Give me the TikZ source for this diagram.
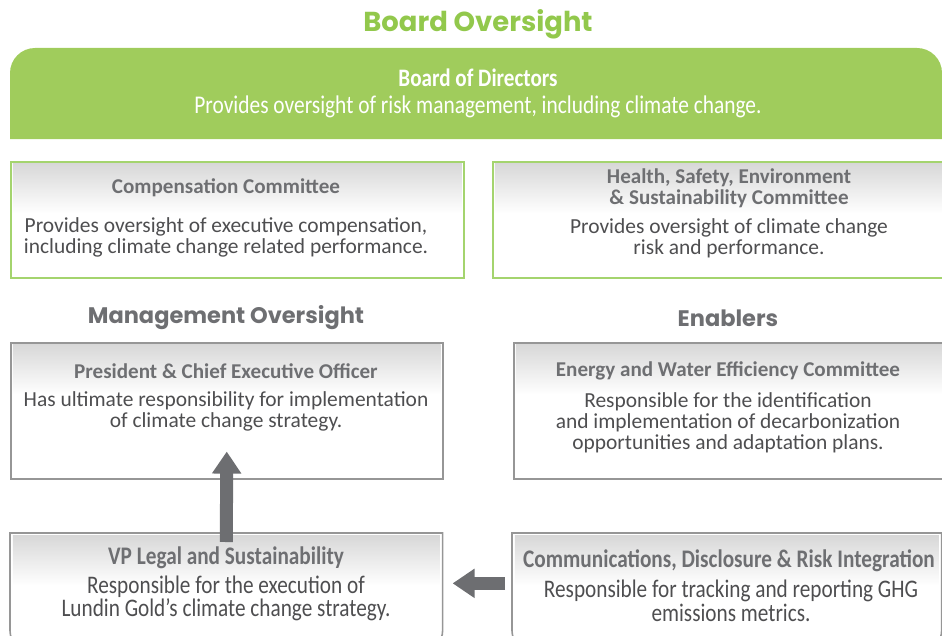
\documentclass[tikz,border=0pt]{standalone}
\usepackage{fontspec}
\setmainfont{Carlito}
\newfontfamily\narrowfont{Carlito}[FakeStretch=0.84]
\newfontfamily\headfont{Poppins}
\usetikzlibrary{arrows.meta}

\definecolor{boardgreen}{RGB}{160,204,92}
\definecolor{titlegreen}{RGB}{146,200,76}
\definecolor{edgegreen}{RGB}{164,212,110}
\definecolor{edgegrey}{RGB}{150,150,150}
\definecolor{shadegrey}{RGB}{216,216,216}
\definecolor{headgrey}{RGB}{110,111,114}
\definecolor{bodygrey}{RGB}{78,78,80}
\definecolor{arrowgrey}{RGB}{109,110,113}

\begin{document}
\begin{tikzpicture}[x=0.02cm, y=-0.02cm,
    greenbox/.style = {draw=edgegreen, line width=1pt, anchor=north west, inner sep=0, fill=white},
    greybox/.style = {draw=edgegrey, line width=0.9pt, anchor=north west, inner sep=0, fill=white},
    head/.style = {text=headgrey, align=center, font=\bfseries\fontsize{12}{11.9}\selectfont},
    body/.style = {text=bodygrey, align=center, font=\fontsize{12.2}{11.9}\selectfont},
    narrowhead/.style = {text=headgrey, align=center, font=\narrowfont\bfseries\fontsize{14.4}{11.9}\selectfont},
    narrowbody/.style = {text=bodygrey, align=center, font=\narrowfont\fontsize{14.4}{11.9}\selectfont},
    section/.style = {text=headgrey, font=\headfont\bfseries\fontsize{12.8}{14}\selectfont},
    bigarrow/.style = {draw=arrowgrey, line width=0.26cm, -{Triangle[width=0.56cm,length=0.44cm]}}]
    \useasboundingbox (0,0) rectangle (942,635);

    % board
    \node[text=titlegreen, font=\headfont\bfseries\fontsize{15.6}{17}\selectfont] (boardtitle) at (478,24) {Board Oversight};
    \fill[boardgreen] (10,139) [rounded corners=0.5cm] -- (10,48) -- (942,48) [sharp corners] -- (942,139) -- cycle;
    \node[text=white, font=\narrowfont\bfseries\fontsize{14.3}{14}\selectfont] (bodname) at (478,78) {Board of Directors};
    \node[text=white, font=\narrowfont\fontsize{14.5}{14}\selectfont] (boddesc) at (478,107) {Provides oversight of risk management, including climate change.};

    % boxes
    \node[greenbox, minimum width=9.06cm, minimum height=2.32cm] (comp) at (10,161) {};
    \node[greenbox, minimum width=9.1cm, minimum height=2.32cm] (hse) at (492,161) {};
    \node[greybox, minimum width=8.64cm, minimum height=2.72cm] (ceo) at (10,342) {};
    \node[greybox, minimum width=8.7cm, minimum height=2.72cm] (energy) at (513,342) {};
    \node[anchor=north west, minimum width=8.64cm, minimum height=2.34cm, inner sep=0] (vp) at (10,533) {};
    \node[anchor=north west, minimum width=8.58cm, minimum height=2.34cm, inner sep=0] (comm) at (512,533) {};
    \foreach \b in {comp,hse,ceo,energy,vp,comm}
        \shade[top color=shadegrey, bottom color=white] ([shift={(1.6pt,-1.6pt)}]\b.north west) rectangle ([shift={(-1.6pt,-1.05cm)}]\b.north east);
    \draw[edgegrey, line width=0.9pt] (vp.north west) [rounded corners=0.4cm] -- (vp.south west) -- (vp.south east) [sharp corners] -- (vp.north east) -- cycle;
    \draw[edgegrey, line width=0.9pt] (comm.north west) [rounded corners=0.4cm] -- (comm.south west) -- (comm.south east) [sharp corners] -- (comm.north east) -- cycle;

    % committees
    \node[head] (comphead) at (226,188) {Compensation Committee};
    \node[body] (compbody) at (226,237.5) {Provides oversight of executive compensation,\\including climate change related performance.};
    \node[head] (hsehead) at (729,188.5) {Health, Safety, Environment\\\& Sustainability Committee};
    \node[body] (hsebody) at (729,238.5) {Provides oversight of climate change\\risk and performance.};

    % section titles
    \node[section] (mgmt) at (226,318) {Management Oversight};
    \node[section] (enablers) at (728,318) {Enablers};

    % management and enablers
    \node[head] (ceohead) at (226,371) {President \& Chief Executive Officer};
    \node[body] (ceobody) at (226,411.5) {Has ultimate responsibility for implementation\\of climate change strategy.};
    \node[head] (energyhead) at (728,371) {Energy and Water Efficiency Committee};
    \node[body] (energybody) at (728,423) {Responsible for the identification\\and implementation of decarbonization\\opportunities and adaptation plans.};

    % bottom row
    \node[narrowhead] (vphead) at (226,558) {VP Legal and Sustainability};
    \node[narrowbody] (vpbody) at (226,598.5) {Responsible for the execution of\\Lundin Gold’s climate change strategy.};
    \node[narrowhead] (commhead) at (729,561) {Communications, Disclosure \& Risk Integration};
    \node[narrowbody] (commbody) at (731,601) {Responsible for tracking and reporting GHG\\emissions metrics.};

    % arrows
    \draw[bigarrow] ([yshift=-0.18cm]vp.north) -- ([yshift=0.56cm]ceo.south);
    \draw[bigarrow] ([xshift=-0.14cm,yshift=0.17cm]comm.west) -- ([xshift=0.2cm,yshift=0.17cm]vp.east);
\end{tikzpicture}
\end{document}
